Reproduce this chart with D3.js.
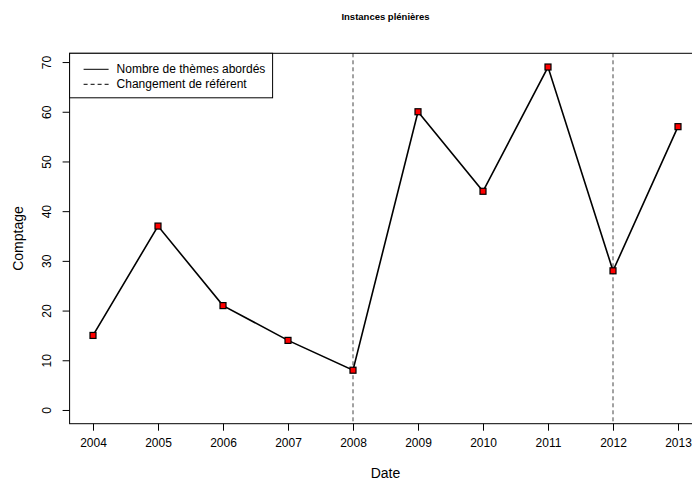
<!DOCTYPE html>
<html>
<head>
<meta charset="utf-8">
<script src="https://cdn.jsdelivr.net/npm/d3@7"></script>
<style>
  body { margin: 0; background: #fff; }
  text { font-family: "Liberation Sans", Arial, sans-serif; }
</style>
</head>
<body>
<div class="chart"></div>
<script>
const years = [2004, 2005, 2006, 2007, 2008, 2009, 2010, 2011, 2012, 2013];
const counts = [15, 37, 21, 14, 8, 60, 44, 69, 28, 57];
const changeYears = [2008, 2012];
const yTicks = [0, 10, 20, 30, 40, 50, 60, 70];
const legendLabels = ["Nombre de thèmes abordés", "Changement de référent"];

const width = 692, height = 480;

const svg = d3.select(".chart").append("svg")
  .attr("width", width)
  .attr("height", height);

// R style: 4% padding on each side of the data range
const xpad = (2013 - 2004) * 0.04;
const ypad = 69 * 0.04;

const x = d3.scaleLinear()
  .domain([2004 - xpad, 2013 + xpad])
  .range([69.6, 701.4]);

const y = d3.scaleLinear()
  .domain([0 - ypad, 69 + ypad])
  .range([423.7, 53.3]);

const [x0, x1] = x.range();
const [yb, yt] = y.range();

// vertical dashed lines
svg.selectAll("line.change")
  .data(changeYears)
  .enter()
  .append("line")
  .attr("class", "change")
  .attr("x1", d => x(d)).attr("x2", d => x(d))
  .attr("y1", yt).attr("y2", yb)
  .attr("stroke", "#444")
  .attr("stroke-width", 1)
  .attr("stroke-dasharray", "4,3");

// line
const line = d3.line()
  .x((d, i) => x(years[i]))
  .y(d => y(d));

svg.append("path")
  .datum(counts)
  .attr("d", line)
  .attr("fill", "none")
  .attr("stroke", "#000")
  .attr("stroke-width", 1.6);

// markers
svg.selectAll("rect.pt")
  .data(counts)
  .enter()
  .append("rect")
  .attr("class", "pt")
  .attr("x", (d, i) => x(years[i]) - 3)
  .attr("y", d => y(d) - 3)
  .attr("width", 6)
  .attr("height", 6)
  .attr("fill", "#ff0000")
  .attr("stroke", "#000")
  .attr("stroke-width", 1.2);

// box
svg.append("rect")
  .attr("x", x0).attr("y", yt)
  .attr("width", x1 - x0).attr("height", yb - yt)
  .attr("fill", "none")
  .attr("stroke", "#000")
  .attr("stroke-width", 1);

// x axis
const xAxis = svg.append("g")
  .attr("transform", `translate(0,${yb})`)
  .call(d3.axisBottom(x).tickValues(years).tickFormat(d3.format("d")).tickSize(7).tickPadding(8));
xAxis.select(".domain").remove();
xAxis.selectAll("line").attr("stroke", "#000");
xAxis.selectAll("text").attr("font-size", 12).attr("fill", "#000")
  .style("font-family", "Liberation Sans, Arial, sans-serif");

// y axis
const yAxis = svg.append("g")
  .attr("transform", `translate(${x0},0)`)
  .call(d3.axisLeft(y).tickValues(yTicks).tickSize(7).tickPadding(0));
yAxis.select(".domain").remove();
yAxis.selectAll("line").attr("stroke", "#000");
yAxis.selectAll("text")
  .attr("font-size", 12).attr("fill", "#000")
  .style("font-family", "Liberation Sans, Arial, sans-serif")
  .attr("text-anchor", "middle")
  .attr("dy", null)
  .attr("x", 0).attr("y", 0)
  .attr("transform", "translate(-19,0) rotate(-90)");

// titles
svg.append("text")
  .attr("x", (x0 + x1) / 2).attr("y", 20)
  .attr("text-anchor", "middle")
  .attr("font-size", 9.5).attr("font-weight", "bold")
  .text("Instances plénières");

svg.append("text")
  .attr("x", (x0 + x1) / 2).attr("y", 478)
  .attr("text-anchor", "middle")
  .attr("font-size", 14)
  .text("Date");

svg.append("text")
  .attr("transform", `translate(23,${(yt + yb) / 2}) rotate(-90)`)
  .attr("text-anchor", "middle")
  .attr("font-size", 14)
  .text("Comptage");

// legend
const lg = svg.append("g");
lg.append("rect")
  .attr("x", x0).attr("y", yt)
  .attr("width", 203).attr("height", 44.5)
  .attr("fill", "#fff")
  .attr("stroke", "#000");
lg.selectAll("line")
  .data(legendLabels)
  .enter()
  .append("line")
  .attr("x1", x0 + 14).attr("x2", x0 + 39)
  .attr("y1", (d, i) => yt + 16 + i * 15)
  .attr("y2", (d, i) => yt + 16 + i * 15)
  .attr("stroke", "#000")
  .attr("stroke-dasharray", (d, i) => i === 1 ? "4,3" : null);
lg.selectAll("text")
  .data(legendLabels)
  .enter()
  .append("text")
  .attr("x", x0 + 47)
  .attr("y", (d, i) => yt + 20 + i * 15)
  .attr("font-size", 12)
  .text(d => d);
</script>
</body>
</html>
